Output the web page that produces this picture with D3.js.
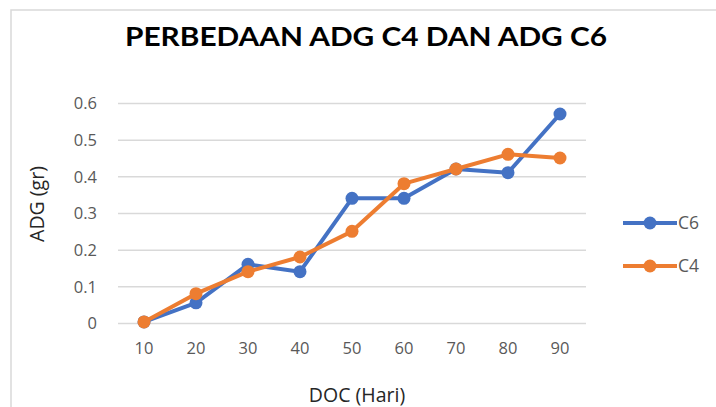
<!DOCTYPE html>
<html><head><meta charset="utf-8">
<script src="https://cdn.jsdelivr.net/npm/d3@7"></script>
<style>body{margin:0;background:#fff}svg{display:block}</style>
</head><body>
<svg id="c" width="716" height="407"></svg>
<script>
const categories = [10, 20, 30, 40, 50, 60, 70, 80, 90];
const c6 = [0.003, 0.055, 0.16, 0.14, 0.34, 0.34, 0.42, 0.41, 0.57];
const c4 = [0.003, 0.08, 0.14, 0.18, 0.25, 0.38, 0.42, 0.46, 0.45];
const yTicks = [0, 0.1, 0.2, 0.3, 0.4, 0.5, 0.6];
const seriesNames = ["C6", "C4"];
const colors = ["#4472C4", "#ED7D31"];

const svg = d3.select("#c");
svg.append("rect").attr("x", 11).attr("y", 10).attr("width", 720).attr("height", 420)
  .attr("fill", "#fff").attr("stroke", "#d9d9d9").attr("stroke-width", 1.5);

const x = d3.scaleBand().domain(categories).range([118, 586]);
const y = d3.scaleLinear().domain([0, 0.6]).range([323, 103]);

svg.append("text").attr("x", 366).attr("y", 46).attr("text-anchor", "middle")
  .attr("font-family", "Lato, Open Sans, sans-serif").attr("font-weight", "bold")
  .attr("font-size", 27).attr("fill", "#000")
  .attr("textLength", 482).attr("lengthAdjust", "spacingAndGlyphs")
  .text("PERBEDAAN ADG C4 DAN ADG C6");

const yAxis = d3.axisLeft(y).tickValues(yTicks).tickSize(-(586 - 118)).tickPadding(21)
  .tickFormat(d => d === 0 ? "0" : d3.format(".1f")(d));
const gy = svg.append("g").attr("transform", "translate(118,0)").call(yAxis);
gy.select(".domain").remove();
gy.selectAll(".tick line").attr("stroke", "#d9d9d9").attr("stroke-width", 1.5);
gy.selectAll(".tick text").attr("fill", "#595959").attr("font-size", 16.5)
  .attr("font-family", "Open Sans, sans-serif").attr("dy", "0.35em");

const xAxis = d3.axisBottom(x).tickSize(0).tickPadding(19);
const gx = svg.append("g").attr("transform", "translate(0,323)").call(xAxis);
gx.select(".domain").remove();
gx.selectAll(".tick text").attr("fill", "#595959").attr("font-size", 16.5)
  .attr("font-family", "Open Sans, sans-serif");

svg.append("text").attr("transform", "translate(44,204) rotate(-90)").attr("text-anchor", "middle")
  .attr("font-family", "Open Sans, sans-serif").attr("font-size", 19.5).attr("fill", "#262626")
  .text("ADG (gr)");
svg.append("text").attr("x", 357).attr("y", 402).attr("text-anchor", "middle")
  .attr("font-family", "Open Sans, sans-serif").attr("font-size", 19.5).attr("fill", "#262626")
  .text("DOC (Hari)");

const line = d3.line().x((d, i) => x(categories[i]) + x.bandwidth() / 2).y(d => y(d));
[c6, c4].forEach((vals, si) => {
  const g = svg.append("g");
  g.append("path").datum(vals).attr("d", line).attr("fill", "none")
    .attr("stroke", colors[si]).attr("stroke-width", 4).attr("stroke-linejoin", "round");
  g.selectAll("circle").data(vals).join("circle")
    .attr("cx", (d, i) => x(categories[i]) + x.bandwidth() / 2).attr("cy", d => y(d))
    .attr("r", 6.5).attr("fill", colors[si]);
});

const ly = [223, 266];
seriesNames.forEach((n, i) => {
  const g = svg.append("g");
  g.append("line").attr("x1", 623).attr("x2", 677).attr("y1", ly[i]).attr("y2", ly[i])
    .attr("stroke", colors[i]).attr("stroke-width", 4);
  g.append("circle").attr("cx", 650).attr("cy", ly[i]).attr("r", 6.5).attr("fill", colors[i]);
  g.append("text").attr("x", 678).attr("y", ly[i]).attr("dy", "0.35em")
    .attr("font-family", "Open Sans, sans-serif").attr("font-size", 17.5).attr("fill", "#595959").text(n);
});
</script>
</body></html>
